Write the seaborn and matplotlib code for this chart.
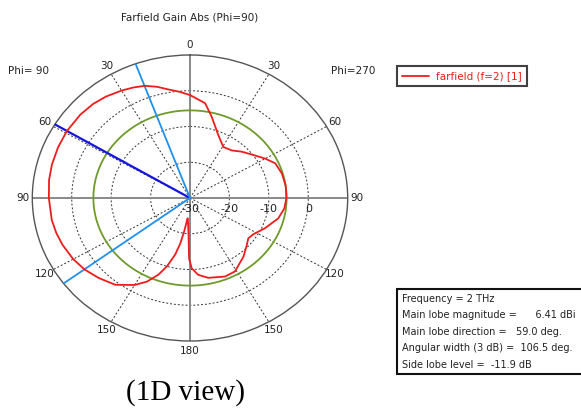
import numpy as np
import pandas as pd
import matplotlib
matplotlib.use("Agg")
import matplotlib.pyplot as plt
import seaborn as sns

# farfield cut, theta in degrees (0..180 = Phi=90 side, 180..360 = Phi=270 side)
theta_deg = [0, 5, 10, 15, 20, 25, 30, 37, 43, 50, 59, 67, 75, 82, 90,
             100, 106, 112, 120, 126.7, 134, 142, 150, 155, 159.5, 163, 166.6,
             169, 171, 172.5, 174, 176, 178, 179.2, 181.3, 185.6, 191.7, 202,
             209, 219.5, 227.7, 232.6, 237.8, 246, 255.7, 263, 270, 278, 286.3,
             294.2, 300.1, 308, 314.8, 321.5, 329.4, 337.8, 346.4, 351.8, 360]
gain_dbi = [-1.2, -0.2, 0.8, 2.2, 3.4, 4.1, 4.7, 5.5, 6.0, 6.3, 6.41, 6.35, 6.25, 6.1, 5.8,
            5.6, 5.3, 4.9, 4.2, 3.4, 2.2, 0.8, -1.9, -4.2, -7.1, -10.0, -13.7,
            -17.0, -20.5, -23.0, -24.3, -23.0, -19.5, -13.1, -10.3, -8.4, -7.2, -6.3,
            -6.5, -8.7, -10.5, -11.4, -11.0, -9.2, -6.9, -5.9, -5.55, -5.49, -5.7,
            -6.3, -8.0, -10.2, -11.6, -13.0, -13.4, -11.0, -6.6, -3.2, -1.2]

main_lobe_mag = 6.41
main_lobe_dir = 59.0
beam_edges = [20.2, 126.7]
side_lobe_level = -11.9

r_min, r_max = -30, 10
r_ticks = [-30, -20, -10, 0]
theta_ticks = list(range(0, 360, 30))
theta_labels = ["0", "30", "60", "90", "120", "150", "180", "150", "120", "90", "60", "30"]

info_lines = [
    "Frequency = 2 THz",
    "Main lobe magnitude =      6.41 dBi    ",
    "Main lobe direction =   59.0 deg.",
    "Angular width (3 dB) =  106.5 deg.",
    "Side lobe level =  -11.9 dB",
]

sns.set_theme(style="white")
plt.rcParams['font.family'] = ['DejaVu Sans']

fig = plt.figure(figsize=(5.81, 4.08), dpi=100)
ax = fig.add_axes([32.3 / 581, 1 - 341 / 408, 315.4 / 581, 286 / 408], projection="polar")
ax.set_aspect("auto")
ax.set_theta_zero_location("N")
ax.set_theta_direction(1)
ax.set_ylim(r_min, r_max)

# grid
ax.set_yticks(r_ticks[1:])
ax.set_yticklabels([])
ax.set_thetagrids(theta_ticks, theta_labels, fontsize=7.5, color="#222222")
ax.tick_params(axis="x", pad=-6)
ax.grid(True, color="#333333", linestyle=(0, (2, 2)), linewidth=0.7)
ax.spines["polar"].set_color("#555555")
ax.spines["polar"].set_linewidth(1.0)

# solid cross axes
for t in [0, 90, 180, 270]:
    ax.plot(np.deg2rad([t, t]), [r_min, r_max], color="#8a8a8a", lw=1.4, zorder=2)

# side lobe level circle
circ = np.linspace(0, 2 * np.pi, 361)
ax.plot(circ, np.full_like(circ, main_lobe_mag + side_lobe_level), color="#6e9b2b", lw=1.3, zorder=3)

# main lobe direction and 3 dB edges
ax.plot(np.deg2rad([main_lobe_dir] * 2), [r_min, r_max], color="#1515e0", lw=1.6, zorder=4)
for e in beam_edges:
    ax.plot(np.deg2rad([e, e]), [r_min, r_max], color="#2090f0", lw=1.3, zorder=4)

# pattern
df = pd.DataFrame({"theta": np.deg2rad(theta_deg), "gain": gain_dbi})
sns.lineplot(data=df, x="theta", y="gain", sort=False, estimator=None,
             color="#f01c1c", lw=1.3, ax=ax, legend=False, zorder=5)
ax.set_xlabel("")
ax.set_ylabel("")
ax.set_ylim(r_min, r_max)
pattern_line = ax.lines[-1]

# radial labels along the right axis
for r in r_ticks:
    ax.annotate(str(r), xy=(np.deg2rad(270), r), xytext=(0, -4), textcoords="offset points",
                ha="center", va="top", fontsize=8, color="#222222", zorder=6)

fig.text(190 / 581, 1 - 17 / 408, "Farfield Gain Abs (Phi=90)", ha="center", va="center",
         fontsize=7.5, color="#222222")
fig.text(8 / 581, 1 - 71 / 408, "Phi= 90", ha="left", va="center", fontsize=7.5, color="#222222")
fig.text(331 / 581, 1 - 71 / 408, "Phi=270", ha="left", va="center", fontsize=7.5, color="#222222")

leg = fig.legend([pattern_line], ["farfield (f=2) [1]"], loc="upper left",
                 bbox_to_anchor=(397 / 581, 1 - 66 / 408), borderaxespad=0,
                 fontsize=7.5, labelcolor="#f01c1c",
                 frameon=True, fancybox=False, handlelength=2.6, borderpad=0.5,
                 handletextpad=0.6)
leg.get_frame().set_edgecolor("#111111")
leg.get_frame().set_linewidth(1.5)

fig.text(402 / 581, 1 - 294 / 408, "\n".join(info_lines), ha="left", va="top",
         fontsize=7, color="#222222", linespacing=1.8,
         bbox=dict(boxstyle="square,pad=0.5", fc="white", ec="#111111", lw=1.5))

fig.text(185 / 581, 1 - 393 / 408, "(1D view)", ha="center", va="center",
         fontsize=21, family="Liberation Serif", color="black")

fig.savefig("out.png", dpi=100)
